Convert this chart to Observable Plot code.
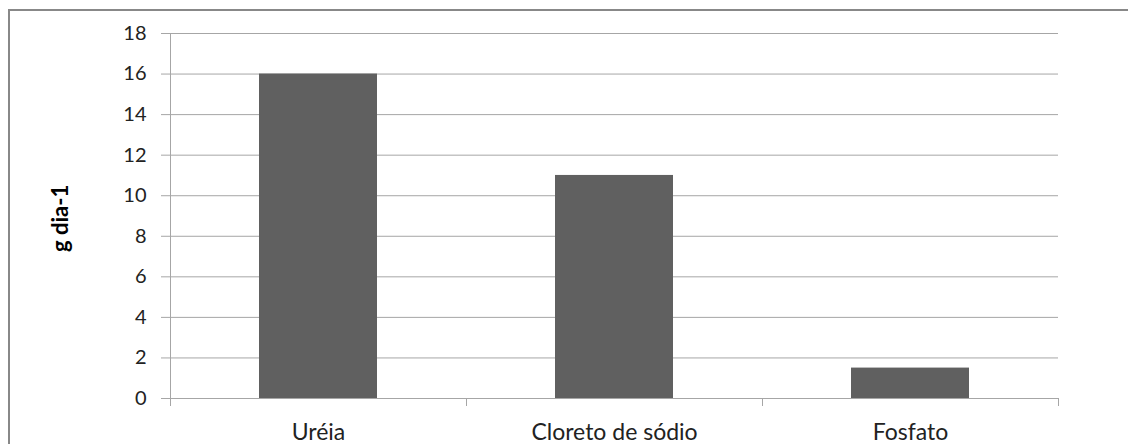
<!DOCTYPE html>
<html>
<head>
<meta charset="utf-8">
<script src="https://cdn.jsdelivr.net/npm/d3@7"></script>
<script src="https://cdn.jsdelivr.net/npm/@observablehq/plot@0.6"></script>
<style>
  html, body { margin: 0; padding: 0; background: #fff; }
  #wrap { position: relative; width: 1128px; height: 444px; overflow: hidden; }
  #frame { position: absolute; left: 8px; top: 9px; width: 1140px; height: 460px;
           border-left: 2px solid #888; border-top: 2px solid #888; pointer-events: none; }
  #chart svg { display: block; }
</style>
</head>
<body>
<div id="wrap"><div id="chart"></div><div id="frame"></div></div>
<script>
// Daily excretion, grams per day
const categories = ["Uréia", "Cloreto de sódio", "Fosfato"];
const values = [16, 11, 1.5];
const yTicks = [0, 2, 4, 6, 8, 10, 12, 14, 16, 18];
const yLabel = "g dia-1";

const data = categories.map((c, i) => ({category: c, value: values[i]}));
const gridColor = "#a6a6a6";

const chart = Plot.plot({
  width: 1128,
  height: 444,
  marginLeft: 170,
  marginRight: 70,
  marginTop: 33,
  marginBottom: 46,
  style: {fontFamily: "Lato, 'Open Sans', sans-serif", fontSize: "20px", color: "#222", background: "#fff"},
  x: {domain: categories, paddingInner: 0.6, paddingOuter: 0.3, label: null},
  y: {domain: [0, 18], label: null},
  marks: [
    Plot.ruleY(yTicks, {stroke: gridColor, strokeWidth: 1}),
    Plot.frame({anchor: "left", stroke: gridColor, strokeWidth: 1}),
    Plot.barY(data, {x: "category", y: "value", fill: "#606060"}),
    Plot.axisY({ticks: yTicks, tickSize: 9, tickPadding: 15, stroke: gridColor, tickFormat: d => d, label: null}),
    Plot.axisX({tickSize: 0, tickPadding: 25, fontSize: 23, label: null}),
    Plot.text([yLabel], {frameAnchor: "left", rotate: -90, dx: -110, dy: 36,
      fontWeight: "bold", fontSize: 22, fill: "#000"})
  ]
});

// Category separator ticks below the baseline, placed from the band scale
const xs = chart.scale("x");
const ys = chart.scale("y");
const y0 = ys.apply(0);
const edges = [xs.range[0]].concat(categories.map(c => xs.apply(c) + xs.bandwidth + xs.step * xs.paddingInner / 2));
d3.select(chart).append("g")
  .attr("stroke", gridColor)
  .selectAll("line")
  .data(edges)
  .join("line")
  .attr("x1", d => Math.round(d) + 0.5)
  .attr("x2", d => Math.round(d) + 0.5)
  .attr("y1", y0)
  .attr("y2", y0 + 8);

document.getElementById("chart").appendChild(chart);
</script>
</body>
</html>
